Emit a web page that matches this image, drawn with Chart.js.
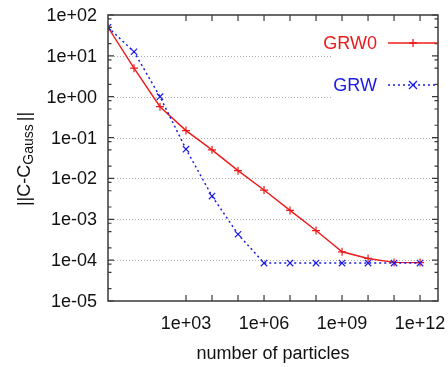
<!DOCTYPE html>
<html>
<head>
<meta charset="utf-8">
<script src="https://cdn.jsdelivr.net/npm/chart.js@4"></script>
<style>
  html, body { margin: 0; padding: 0; background: #fff; }
  #wrap { width: 448px; height: 367px; }
</style>
</head>
<body>
<div id="wrap"><canvas id="myChart" width="448" height="367"></canvas></div>
<script>
// number of particles, one point per decade
const particles = [1, 1e1, 1e2, 1e3, 1e4, 1e5, 1e6, 1e7, 1e8, 1e9, 1e10, 1e11, 1e12];

// ||C - C_Gauss|| for both walkers
const grw0 = [50, 5.0, 0.57, 0.148, 0.05, 0.0155, 0.0052, 0.00165, 5.3e-4, 1.6e-4, 1.1e-4, 8.8e-5, 8.7e-5];
const grw = [50, 12.6, 1.0, 0.052, 0.0037, 4.3e-4, 8.5e-5, 8.5e-5, 8.5e-5, 8.5e-5, 8.5e-5, 8.5e-5, 8.5e-5];

const xTicks = [1e3, 1e4, 1e5, 1e6, 1e7, 1e8, 1e9, 1e10, 1e11, 1e12];
const xTickLabels = { 1e3: '1e+03', 1e6: '1e+06', 1e9: '1e+09', 1e12: '1e+12' };
const yTicks = [1e-5, 1e-4, 1e-3, 1e-2, 1e-1, 1e0, 1e1, 1e2];
const yTickLabels = ['1e-05', '1e-04', '1e-03', '1e-02', '1e-01', '1e+00', '1e+01', '1e+02'];
const yMinorSteps = [2, 5, 8];

const RED = '#ee1a1a';
const BLUE = '#1a1ae6';
const FONT = '"Liberation Sans", Arial, sans-serif';

const toPoints = (ys) => particles.map((x, i) => ({ x: x, y: ys[i] }));

// legend block in the upper right corner (hides the grid behind it)
const legendBox = { left: 332, top: 16, bottom: 110 };
const legendRows = [
    { label: 'GRW0', color: RED, y: 43, dash: [], marker: 'plus' },
    { label: 'GRW', color: BLUE, y: 85, dash: [2, 3], marker: 'x' },
];

function drawMarker(ctx, kind, x, y, r) {
    ctx.beginPath();
    if (kind === 'plus') {
        ctx.moveTo(x - r, y); ctx.lineTo(x + r, y);
        ctx.moveTo(x, y - r); ctx.lineTo(x, y + r);
    } else {
        ctx.moveTo(x - r, y - r); ctx.lineTo(x + r, y + r);
        ctx.moveTo(x - r, y + r); ctx.lineTo(x + r, y - r);
    }
    ctx.stroke();
}

const frame = {
    id: 'frame',
    beforeDatasetsDraw(chart) {
        const { ctx, chartArea: a, scales } = chart;
        ctx.save();
        // dotted horizontal grid at every decade
        ctx.strokeStyle = '#b0b0b0';
        ctx.lineWidth = 1;
        ctx.setLineDash([1, 2]);
        yTicks.forEach((v) => {
            if (v <= 1e-5 || v >= 1e2) return;
            const y = Math.round(scales.y.getPixelForValue(v)) + 0.5;
            const right = (y > legendBox.top && y < legendBox.bottom) ? legendBox.left : a.right;
            ctx.beginPath();
            ctx.moveTo(a.left + 6, y);
            ctx.lineTo(right, y);
            ctx.stroke();
        });
        ctx.restore();
    },
    afterDatasetsDraw(chart) {
        const { ctx, chartArea: a, scales } = chart;
        ctx.save();

        // border
        ctx.strokeStyle = '#3a3a3a';
        ctx.lineWidth = 1.5;
        ctx.setLineDash([]);
        ctx.strokeRect(a.left, a.top, a.right - a.left, a.bottom - a.top);

        // inward ticks, mirrored on both sides
        ctx.lineWidth = 1.2;
        ctx.beginPath();
        xTicks.forEach((v) => {
            const x = scales.x.getPixelForValue(v);
            ctx.moveTo(x, a.bottom); ctx.lineTo(x, a.bottom - 6);
            ctx.moveTo(x, a.top); ctx.lineTo(x, a.top + 6);
        });
        yTicks.forEach((v, i) => {
            const y = scales.y.getPixelForValue(v);
            ctx.moveTo(a.left, y); ctx.lineTo(a.left + 6, y);
            ctx.moveTo(a.right, y); ctx.lineTo(a.right - 6, y);
            if (i < yTicks.length - 1) {
                yMinorSteps.forEach((m) => {
                    const ym = scales.y.getPixelForValue(v * m);
                    ctx.moveTo(a.left, ym); ctx.lineTo(a.left + 3.5, ym);
                    ctx.moveTo(a.right, ym); ctx.lineTo(a.right - 3.5, ym);
                });
            }
        });
        ctx.stroke();

        // tick labels
        ctx.fillStyle = '#111';
        ctx.font = '18px ' + FONT;
        ctx.textAlign = 'right';
        ctx.textBaseline = 'middle';
        yTicks.forEach((v, i) => {
            ctx.fillText(yTickLabels[i], a.left - 11, scales.y.getPixelForValue(v) + 1);
        });
        ctx.textAlign = 'center';
        ctx.textBaseline = 'alphabetic';
        xTicks.forEach((v) => {
            if (xTickLabels[v]) ctx.fillText(xTickLabels[v], scales.x.getPixelForValue(v), a.bottom + 28);
        });

        // axis titles
        ctx.fillText('number of particles', (a.left + a.right) / 2, a.bottom + 58);

        ctx.save();
        ctx.translate(0, (a.top + a.bottom) / 2 + 1);
        ctx.rotate(-Math.PI / 2);
        ctx.textAlign = 'left';
        const big = '18px ' + FONT, small = '14px ' + FONT;
        ctx.font = big;
        const w1 = ctx.measureText('||C-C').width;
        const w3 = ctx.measureText('||').width;
        ctx.font = small;
        const w2 = ctx.measureText('Gauss').width;
        let pos = -(w1 + w2 + w3 + 3) / 2;
        ctx.font = big;
        ctx.fillText('||C-C', pos, 30);
        pos += w1;
        ctx.font = small;
        ctx.fillText('Gauss', pos, 33);
        pos += w2 + 3;
        ctx.font = big;
        ctx.fillText('||', pos, 30);
        ctx.restore();

        // legend
        ctx.font = '18px ' + FONT;
        ctx.textAlign = 'right';
        ctx.textBaseline = 'middle';
        legendRows.forEach((row) => {
            ctx.fillStyle = row.color;
            ctx.fillText(row.label, 377, row.y + 1);
            ctx.strokeStyle = row.color;
            ctx.lineWidth = 1.3;
            ctx.setLineDash(row.dash);
            ctx.beginPath();
            ctx.moveTo(388, row.y);
            ctx.lineTo(a.right, row.y);
            ctx.stroke();
            ctx.setLineDash([]);
            drawMarker(ctx, row.marker, 413, row.y, 4);
        });

        ctx.restore();
    }
};

const config = {
    type: 'line',
    data: {
        datasets: [
            {
                label: 'GRW0',
                data: toPoints(grw0),
                borderColor: RED,
                backgroundColor: RED,
                borderWidth: 1.4,
                pointStyle: 'cross',
                pointRadius: 4,
                pointBorderWidth: 1.2,
                order: 2,
            },
            {
                label: 'GRW',
                data: toPoints(grw),
                borderColor: BLUE,
                backgroundColor: BLUE,
                borderWidth: 1.5,
                borderDash: [2, 3],
                pointStyle: 'crossRot',
                pointRadius: 4.5,
                pointBorderWidth: 1.2,
                order: 1,
            },
        ],
    },
    options: {
        responsive: false,
        animation: false,
        layout: { padding: { left: 108, right: 10, top: 15, bottom: 66 } },
        plugins: {
            legend: { display: false },
            tooltip: { enabled: false },
        },
        scales: {
            x: { type: 'logarithmic', display: false, min: 1, max: 4.9e12 },
            y: { type: 'logarithmic', display: false, min: 1e-5, max: 1e2 },
        },
    },
    plugins: [frame],
};

new Chart(document.getElementById('myChart').getContext('2d'), config);
</script>
</body>
</html>
